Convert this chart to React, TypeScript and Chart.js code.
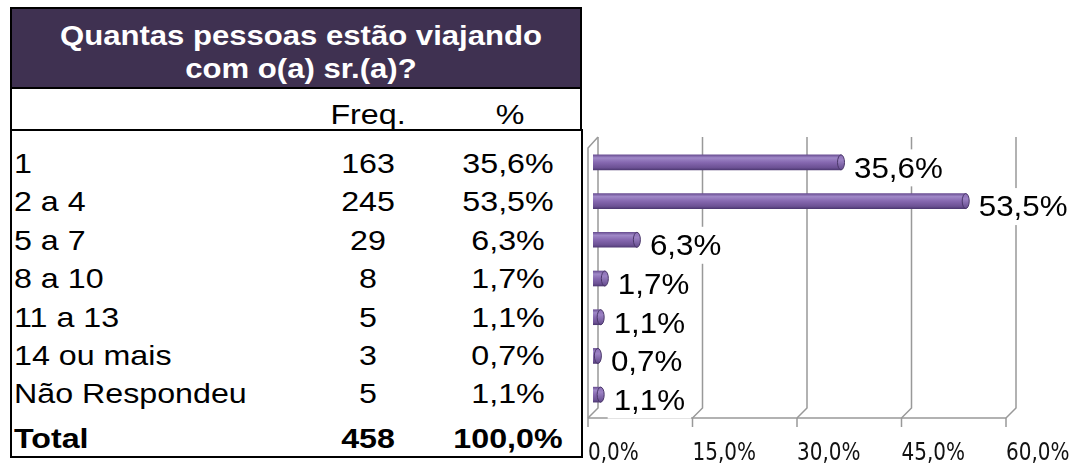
import React, { useEffect, useRef } from "react";
import { Chart, registerables } from "chart.js";

Chart.register(...registerables);

// ---------- data ----------
const titleLines = ["Quantas pessoas estão viajando", "com o(a) sr.(a)?"];
const headerLabels = ["Freq.", "%"];
const categories = ["1", "2 a 4", "5 a 7", "8 a 10", "11 a 13", "14 ou mais", "Não Respondeu"];
const frequencies = [163, 245, 29, 8, 5, 3, 5];
const percentages = [35.6, 53.5, 6.3, 1.7, 1.1, 0.7, 1.1];
const totalLabel = "Total";
const totalFrequency = 458;
const totalPercentage = 100.0;
const axisTicks = [0, 15, 30, 45, 60];

const fmtPct = (v: number) => v.toFixed(1).replace(".", ",") + "%";

// ---------- styling ----------
const FONT = '"Liberation Sans", Arial, Helvetica, sans-serif';
const GRID = "#999999";
const STRETCH = 1.13;

const wallPlugin = {
  id: "wall3d",
  beforeDatasetsDraw(chart: any) {
    const { ctx, chartArea } = chart;
    const x = chart.scales.x;
    const top = chartArea.top;
    const bottom = chartArea.bottom;
    const backDx = 5, backDy = -6, frontDx = -5, frontDy = 4;
    ctx.save();
    ctx.strokeStyle = GRID;
    ctx.lineWidth = 1.5;
    axisTicks.forEach((t) => {
      const px = x.getPixelForValue(t);
      ctx.beginPath();
      ctx.moveTo(px + backDx, top + backDy);
      ctx.lineTo(px + backDx, bottom + backDy);
      ctx.lineTo(px + frontDx, bottom + frontDy);
      ctx.stroke();
    });
    const p0 = x.getPixelForValue(0);
    ctx.beginPath();
    ctx.moveTo(p0 + backDx, top + backDy);
    ctx.lineTo(p0 + frontDx, top + backDy + 11);
    ctx.lineTo(p0 + frontDx, bottom + frontDy);
    ctx.stroke();
    const p60 = x.getPixelForValue(axisTicks[axisTicks.length - 1]);
    ctx.beginPath();
    ctx.moveTo(p0 + frontDx, bottom + frontDy);
    ctx.lineTo(p60 + frontDx, bottom + frontDy);
    ctx.stroke();
    ctx.fillStyle = "#111";
    ctx.font = '20px "DejaVu Sans", Verdana, sans-serif';
    ctx.textAlign = "left";
    ctx.textBaseline = "alphabetic";
    axisTicks.forEach((t) => {
      const px = x.getPixelForValue(t) + frontDx;
      ctx.beginPath();
      ctx.moveTo(px, bottom + frontDy);
      ctx.lineTo(px, bottom + frontDy + 9);
      ctx.stroke();
      ctx.save();
      ctx.translate(px, 460);
      ctx.scale(1, 1.22);
      ctx.fillText(fmtPct(t), 0, 0);
      ctx.restore();
    });
    ctx.restore();

    // cylinder-like shading of bars
    const meta = chart.getDatasetMeta(0);
    meta.data.forEach((bar: any) => {
      const { y, height } = bar.getProps(["y", "height"], true);
      const h = Math.abs(height);
      if (!Number.isFinite(y) || !Number.isFinite(h)) return;
      const g = ctx.createLinearGradient(0, y - h / 2, 0, y + h / 2);
      g.addColorStop(0, "#6a4f93");
      g.addColorStop(0.2, "#a089c8");
      g.addColorStop(0.5, "#8668b0");
      g.addColorStop(0.85, "#6c5194");
      g.addColorStop(1, "#4f3a74");
      bar.options = Object.assign({}, bar.options, { backgroundColor: g });
    });
  },
  afterDatasetsDraw(chart: any) {
    const { ctx } = chart;
    const meta = chart.getDatasetMeta(0);
    ctx.save();
    meta.data.forEach((bar: any, i: number) => {
      const { x, y, height } = bar.getProps(["x", "y", "height"], true);
      const h = Math.abs(height);
      const g = ctx.createLinearGradient(0, y - h / 2, 0, y + h / 2);
      g.addColorStop(0, "#8a6db4");
      g.addColorStop(0.35, "#9c82c4");
      g.addColorStop(1, "#634a8c");
      ctx.beginPath();
      ctx.ellipse(x, y, 3.5, h / 2, 0, 0, Math.PI * 2);
      ctx.fillStyle = g;
      ctx.fill();
      ctx.strokeStyle = "#4a3769";
      ctx.lineWidth = 1;
      ctx.stroke();
      const text = fmtPct(percentages[i]);
      ctx.font = `29px ${FONT}`;
      const sx = 1.08;
      const w = ctx.measureText(text).width * sx;
      const tx = x + 13;
      const cy = y + 5;
      ctx.fillStyle = "#ffffff";
      ctx.fillRect(tx - 6, cy - 18, w + 12, 37);
      ctx.fillStyle = "#000000";
      ctx.textAlign = "left";
      ctx.textBaseline = "alphabetic";
      ctx.save();
      ctx.translate(tx, cy + 10.4);
      ctx.scale(sx, 1);
      ctx.fillText(text, 0, 0);
      ctx.restore();
    });
    ctx.restore();
  },
};

export default function App() {
  const canvasRef = useRef<HTMLCanvasElement>(null);

  useEffect(() => {
    const canvas = canvasRef.current;
    if (!canvas) return;
    const chart = new Chart(canvas, {
      type: "bar",
      data: {
        labels: categories,
        datasets: [
          {
            data: percentages,
            barThickness: 15,
            borderWidth: 0,
            backgroundColor: "#8064A2",
          },
        ],
      },
      options: {
        indexAxis: "y",
        responsive: false,
        maintainAspectRatio: false,
        animation: false,
        devicePixelRatio: 1,
        layout: { padding: { left: 9, right: 60, top: 143, bottom: 49 } },
        scales: {
          x: { type: "linear", min: 0, max: 60, display: false },
          y: { type: "category", display: false },
        },
        plugins: {
          legend: { display: false },
          tooltip: { enabled: false },
          title: { display: false },
        },
      },
      plugins: [wallPlugin],
    } as any);
    return () => chart.destroy();
  }, []);

  const rowCenter = (i: number) => 163 + i * 38.4;
  const cell = (
    text: string | number,
    left: number,
    width: number,
    cy: number,
    align: "left" | "center",
    bold = false
  ) => (
    <div
      style={{
        position: "absolute",
        left,
        width,
        top: cy - 19,
        height: 38,
        lineHeight: "38px",
        textAlign: align,
        fontWeight: bold ? "bold" : "normal",
        whiteSpace: "nowrap",
        transform: `scaleX(${STRETCH})`,
        transformOrigin: align === "left" ? "left center" : "center center",
      }}
    >
      {text}
    </div>
  );

  return (
    <div
      style={{
        position: "absolute",
        left: 0,
        top: 0,
        width: 1071,
        height: 463,
        overflow: "hidden",
        background: "#ffffff",
        fontFamily: FONT,
        fontSize: 28.5,
        color: "#000",
      }}
    >
      <div
        style={{
          position: "absolute",
          left: 10,
          top: 7,
          width: 572,
          height: 82,
          boxSizing: "border-box",
          border: "2px solid #000",
          background: "#3F3151",
          color: "#fff",
          fontWeight: "bold",
          fontSize: 28,
          lineHeight: "33px",
          textAlign: "center",
          paddingTop: 10,
          paddingLeft: 10,
        }}
      >
        {titleLines.map((l) => (
          <div key={l} style={{ transform: "scaleX(1.11)", whiteSpace: "nowrap" }}>
            {l}
          </div>
        ))}
      </div>
      <div
        style={{
          position: "absolute",
          left: 10,
          top: 87,
          width: 572,
          height: 44,
          boxSizing: "border-box",
          borderLeft: "2px solid #000",
          borderRight: "2px solid #000",
          borderBottom: "2px solid #000",
        }}
      />
      {cell(headerLabels[0], 308, 120, 114, "center")}
      {cell(headerLabels[1], 450, 120, 114, "center")}
      <div
        style={{
          position: "absolute",
          left: 10,
          top: 129,
          width: 573,
          height: 329,
          boxSizing: "border-box",
          borderLeft: "2px solid #000",
          borderRight: "2px solid #000",
          borderBottom: "2px solid #000",
        }}
      />
      {categories.map((c, i) => (
        <React.Fragment key={c}>
          {cell(c, 14, 280, rowCenter(i), "left")}
          {cell(frequencies[i], 308, 120, rowCenter(i), "center")}
          {cell(fmtPct(percentages[i]), 438, 140, rowCenter(i), "center")}
        </React.Fragment>
      ))}
      {cell(totalLabel, 14, 280, 438, "left", true)}
      {cell(totalFrequency, 308, 120, 438, "center", true)}
      {cell(fmtPct(totalPercentage), 438, 140, 438, "center", true)}
      <div style={{ position: "absolute", left: 584, top: 0, width: 487, height: 463 }}>
        <canvas ref={canvasRef} width={487} height={463} style={{ width: 487, height: 463, display: "block" }} />
      </div>
    </div>
  );
}
